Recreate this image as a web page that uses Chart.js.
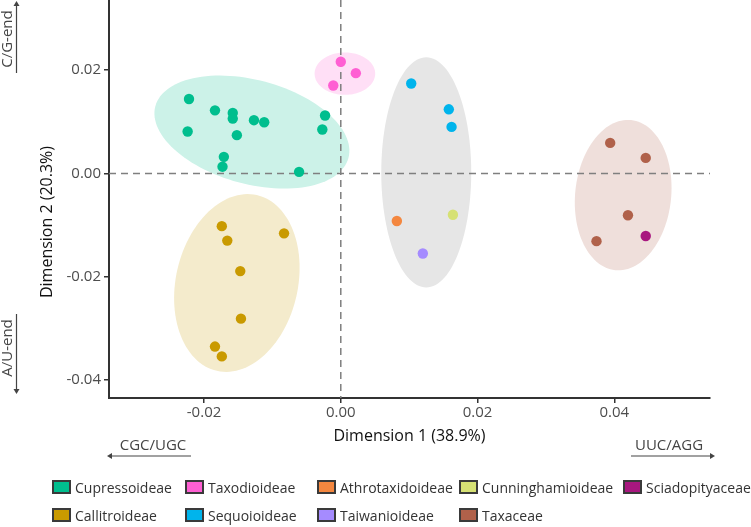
<!DOCTYPE html>
<html>
<head>
<meta charset="utf-8">
<script src="https://cdn.jsdelivr.net/npm/chart.js@4/dist/chart.umd.min.js"></script>
<style>
  html, body { margin: 0; padding: 0; background: #fff; }
  #wrap { position: relative; width: 751px; height: 527px; font-family: 'Open Sans', sans-serif; }
  #graphCanvas { position: absolute; left: 0; top: 0; }
  #legend {
    position: absolute; left: 52px; top: 478px;
    display: grid; grid-template-columns: 133px 132px 142px 164px 128px; row-gap: 10px;
  }
  .item { display: flex; align-items: center; height: 18px; font-size: 14px; color: #333; white-space: nowrap; }
  .box { width: 15px; height: 10px; border: 2px solid #3a3a3a; margin-right: 4px; }
</style>
</head>
<body>
<div id="wrap">
  <canvas id="graphCanvas" width="751" height="527"></canvas>
  <div id="legend"></div>
</div>
<script>
// 그룹 이름, 색
const groupNames = ['Cupressoideae', 'Taxodioideae', 'Athrotaxidoideae', 'Cunninghamioideae', 'Sciadopityaceae',
                    'Callitroideae', 'Sequoioideae', 'Taiwanioideae', 'Taxaceae'];
const groupColors = ['#00BE8E', '#FF5FD3', '#F4873F', '#D6E174', '#A8177F',
                     '#C99A00', '#00B4EC', '#A58BFF', '#B0614A'];

// 점 좌표 [Dimension 1, Dimension 2]
const cupressoideae = [
  [-0.0222, 0.0144], [-0.0224, 0.0081], [-0.0184, 0.0122], [-0.0158, 0.0117], [-0.0158, 0.0106],
  [-0.0152, 0.0074], [-0.0127, 0.0103], [-0.0112, 0.0099], [-0.0023, 0.0112], [-0.0027, 0.0085],
  [-0.0171, 0.0032], [-0.0173, 0.0013], [-0.0061, 0.0003]
];
const taxodioideae = [[0.0000, 0.0216], [0.0022, 0.0194], [-0.0011, 0.0170]];
const athrotaxidoideae = [[0.0082, -0.0092]];
const cunninghamioideae = [[0.0164, -0.0080]];
const sciadopityaceae = [[0.0446, -0.0121]];
const callitroideae = [
  [-0.0174, -0.0102], [-0.0166, -0.0130], [-0.0083, -0.0116], [-0.0147, -0.0189],
  [-0.0146, -0.0281], [-0.0184, -0.0335], [-0.0174, -0.0354]
];
const sequoioideae = [[0.0103, 0.0174], [0.0158, 0.0124], [0.0162, 0.0090]];
const taiwanioideae = [[0.0120, -0.0155]];
const taxaceae = [[0.0394, 0.0059], [0.0446, 0.0030], [0.0420, -0.0081], [0.0374, -0.0131]];
const groupPoints = [cupressoideae, taxodioideae, athrotaxidoideae, cunninghamioideae, sciadopityaceae,
                     callitroideae, sequoioideae, taiwanioideae, taxaceae];

// 타원: 중심, 두 반축 벡터 (데이터 단위)
const ellipseCenters = [[-0.0130, 0.0080], [0.0006, 0.0193], [0.0125, 0.0002], [0.0413, -0.0042], [-0.0152, -0.0212]];
const ellipseAxisU = [[0.01412, -0.00501], [0.00443, 0], [0.00658, 0], [0.00116, 0.01452], [0.00292, 0.0170]];
const ellipseAxisV = [[-0.00197, -0.00972], [0, 0.0041], [0, 0.02226], [0.00698, -0.00097], [0.0087, -0.00261]];
const ellipseFills = ['#CCF2E8', '#FFDFF6', '#E6E6E6', '#EFDFDB', '#F4EBCC'];

// 축 범위, 눈금
const xMin = -0.0339, xMax = 0.0540;
const yMin = -0.04345, yMax = 0.03355;
const xTicks = [-0.02, 0, 0.02, 0.04];
const yTicks = [-0.04, -0.02, 0, 0.02];

// 타원 + 점선 (점 아래)
const ellipsePlugin = {
  id: 'ellipses',
  beforeDatasetsDraw(chart) {
    const { ctx, chartArea, scales } = chart;
    ctx.save();
    ellipseCenters.forEach((c, i) => {
      const u = ellipseAxisU[i], v = ellipseAxisV[i];
      ctx.beginPath();
      for (let k = 0; k <= 120; k++) {
        const t = k / 120 * Math.PI * 2;
        const px = scales.x.getPixelForValue(c[0] + u[0] * Math.cos(t) + v[0] * Math.sin(t));
        const py = scales.y.getPixelForValue(c[1] + u[1] * Math.cos(t) + v[1] * Math.sin(t));
        if (k === 0) ctx.moveTo(px, py); else ctx.lineTo(px, py);
      }
      ctx.closePath();
      ctx.fillStyle = ellipseFills[i];
      ctx.fill();
    });

    // 원점 점선
    const x0 = scales.x.getPixelForValue(0);
    const y0 = scales.y.getPixelForValue(0);
    ctx.strokeStyle = '#7f7f7f';
    ctx.lineWidth = 1.5;
    ctx.setLineDash([7, 5]);
    ctx.beginPath();
    ctx.moveTo(chartArea.left, y0);
    ctx.lineTo(chartArea.right, y0);
    ctx.moveTo(x0, chartArea.top);
    ctx.lineTo(x0, chartArea.bottom);
    ctx.stroke();
    ctx.restore();
  }
};

// 바깥쪽 주석 (화살표, y축 제목)
const annotPlugin = {
  id: 'annot',
  afterDraw(chart) {
    const { ctx } = chart;
    ctx.save();
    ctx.fillStyle = '#444';
    ctx.strokeStyle = '#444';
    ctx.lineWidth = 1.2;
    ctx.font = '15px "Open Sans"';
    ctx.textAlign = 'center';
    ctx.textBaseline = 'middle';

    function arrowHead(x, y, dx, dy) {
      const s = 5, w = 3;
      ctx.beginPath();
      ctx.moveTo(x, y);
      ctx.lineTo(x - dx * s - dy * w, y - dy * s - dx * w);
      ctx.lineTo(x - dx * s + dy * w, y - dy * s + dx * w);
      ctx.closePath();
      ctx.fill();
    }

    // 왼쪽 세로 주석
    ctx.save();
    ctx.translate(8, 39);
    ctx.rotate(-Math.PI / 2);
    ctx.fillText('C/G-end', 0, 0);
    ctx.restore();
    ctx.beginPath(); ctx.moveTo(16.5, 73); ctx.lineTo(16.5, 3); ctx.stroke();
    arrowHead(16.5, 1, 0, -1);

    ctx.save();
    ctx.translate(8, 348);
    ctx.rotate(-Math.PI / 2);
    ctx.fillText('A/U-end', 0, 0);
    ctx.restore();
    ctx.beginPath(); ctx.moveTo(16.5, 314); ctx.lineTo(16.5, 392); ctx.stroke();
    arrowHead(16.5, 394, 0, 1);

    // 아래 가로 주석
    ctx.fillText('CGC/UGC', 153, 446);
    ctx.beginPath(); ctx.moveTo(191, 456); ctx.lineTo(109, 456); ctx.stroke();
    arrowHead(107, 456, -1, 0);

    ctx.fillText('UUC/AGG', 669, 446);
    ctx.beginPath(); ctx.moveTo(631, 456); ctx.lineTo(713, 456); ctx.stroke();
    arrowHead(715, 456, 1, 0);

    // y축 제목
    ctx.save();
    ctx.fillStyle = '#111';
    ctx.font = '16px "Open Sans"';
    ctx.translate(47, 222);
    ctx.rotate(-Math.PI / 2);
    ctx.fillText('Dimension 2 (20.3%)', 0, 0);
    ctx.restore();

    ctx.restore();
  }
};

const tickFont = { family: 'Open Sans', size: 15 };

new Chart(document.getElementById('graphCanvas').getContext('2d'), {
  type: 'scatter',
  data: {
    datasets: groupNames.map((name, i) => ({
      label: name,
      data: groupPoints[i].map(p => ({ x: p[0], y: p[1] })),
      backgroundColor: groupColors[i],
      borderColor: groupColors[i],
      borderWidth: 0,
      pointRadius: 5.2
    }))
  },
  options: {
    responsive: false,
    animation: false,
    layout: { autoPadding: false, padding: { left: 0, right: 41, top: 0, bottom: 81 } },
    plugins: { legend: { display: false }, tooltip: { enabled: false } },
    scales: {
      x: {
        type: 'linear', min: xMin, max: xMax,
        afterBuildTicks: s => { s.ticks = xTicks.map(v => ({ value: v })); },
        afterFit: s => { s.height = 48; s.paddingLeft = 0; s.paddingRight = 0; },
        grid: { drawOnChartArea: false, drawTicks: true, tickLength: 5, color: '#333', lineWidth: 1.5 },
        border: { display: true, color: '#333', width: 2 },
        ticks: { color: '#4d4d4d', font: tickFont, padding: 1, maxRotation: 0, callback: v => v.toFixed(2) },
        title: { display: true, text: 'Dimension 1 (38.9%)', color: '#111', font: { family: 'Open Sans', size: 16 }, padding: 0 }
      },
      y: {
        type: 'linear', min: yMin, max: yMax,
        afterBuildTicks: s => { s.ticks = yTicks.map(v => ({ value: v })); },
        afterFit: s => { s.width = 109; s.paddingTop = 0; s.paddingBottom = 0; },
        grid: { drawOnChartArea: false, drawTicks: true, tickLength: 5, color: '#333', lineWidth: 1.5 },
        border: { display: true, color: '#333', width: 2 },
        ticks: { color: '#4d4d4d', font: tickFont, padding: 3, callback: v => v.toFixed(2) }
      }
    }
  },
  plugins: [ellipsePlugin, annotPlugin]
});

// 범례
const legendDiv = document.getElementById('legend');
groupNames.forEach((name, i) => {
  const item = document.createElement('div');
  item.className = 'item';
  const box = document.createElement('span');
  box.className = 'box';
  box.style.background = groupColors[i];
  item.appendChild(box);
  item.appendChild(document.createTextNode(name));
  legendDiv.appendChild(item);
});
</script>
</body>
</html>
